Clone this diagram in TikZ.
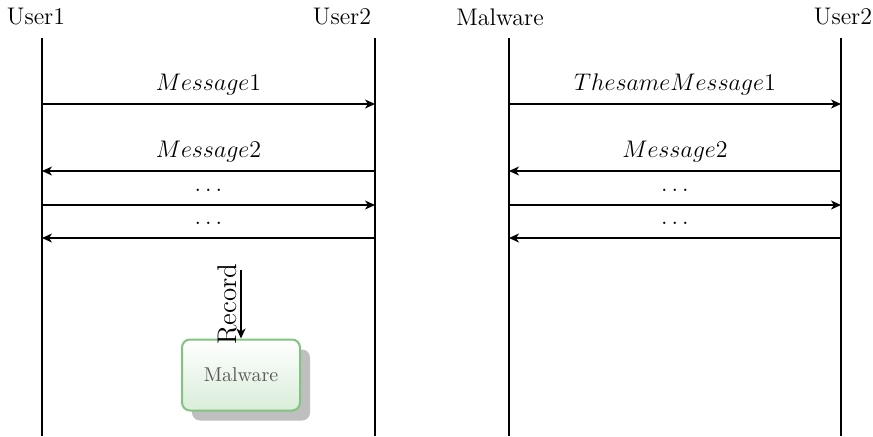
\documentclass[tikz,border=0pt]{standalone}
\usepackage{amsmath}
\usepackage{amssymb}
\usepackage{xcolor}
\usepackage{tikz}
\usetikzlibrary{calc}
\usetikzlibrary{shadows}
\usetikzlibrary{arrows.meta}

\definecolor{malgreen}{HTML}{82C382}

\begin{document}
\begin{tikzpicture}[x=0.5pt, y=-0.5pt, font=\fontsize{12}{14}\selectfont, life/.style={line width=0.75pt}, msg/.style={-{Stealth[length=5pt, width=4.5pt, inset=1.5pt]}, line width=0.75pt}, lbl/.style={above=6.5pt, inner sep=0pt, text depth=0pt}, malbox/.style={draw=malgreen, line width=1pt, rounded corners=4pt, top color=white, bottom color=malgreen!30, minimum width=59pt, minimum height=35.5pt, text=black!65, font=\fontsize{10}{12}\selectfont, drop shadow={shadow xshift=5pt, shadow yshift=-5pt, fill=black!25, opacity=1}}]
  \useasboundingbox (0,0) rectangle (873,436);
  \node(usera) at (36,17){User1};
  \node(userb) at (342,17){User2};
  \node(malw) at (500,17){Malware};
  \node(userc) at (843,17){User2};
  \coordinate(ua) at (42,38);
  \coordinate(ub) at (375,38);
  \coordinate(mw) at (509,38);
  \coordinate(uc) at (841,38);
  \draw[life] (ua) -- (ua |- 0,436);
  \draw[life] (ub) -- (ub |- 0,436);
  \draw[life] (mw) -- (mw |- 0,436);
  \draw[life] (uc) -- (uc |- 0,436);
  \draw[msg] (ua |- 0,104) -- node[lbl]{$Message1$} (ub |- 0,104);
  \draw[msg] (ub |- 0,171) -- node[lbl]{$Message2$} (ua |- 0,171);
  \draw[msg] (ua |- 0,205) -- node[lbl]{$\ldots$} (ub |- 0,205);
  \draw[msg] (ub |- 0,238) -- node[lbl]{$\ldots$} (ua |- 0,238);
  \draw[msg] (mw |- 0,104) -- node[lbl]{$The same Message1$} (uc |- 0,104);
  \draw[msg] (uc |- 0,171) -- node[lbl]{$Message2$} (mw |- 0,171);
  \draw[msg] (mw |- 0,205) -- node[lbl]{$\ldots$} (uc |- 0,205);
  \draw[msg] (uc |- 0,238) -- node[lbl]{$\ldots$} (mw |- 0,238);
  \node[malbox](mal) at (241,375){Malware};
  \coordinate(rec) at (241,270);
  \draw[msg] (rec) -- node[rotate=90, anchor=south, inner sep=1.5pt, font=\fontsize{13.5}{15}\selectfont]{Record} (mal.north);
\end{tikzpicture}
\end{document}
